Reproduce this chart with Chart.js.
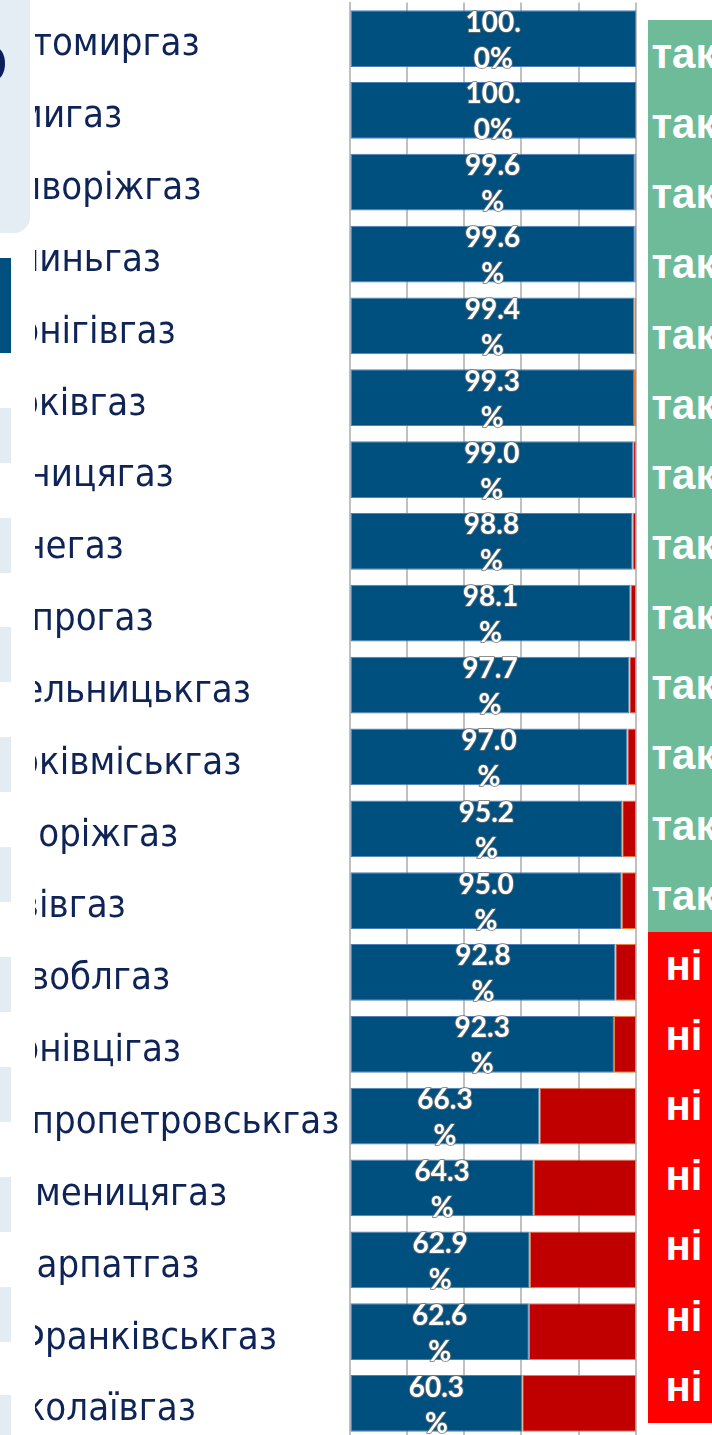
<!DOCTYPE html>
<html><head><meta charset="utf-8">
<script src="https://cdn.jsdelivr.net/npm/chart.js@4.4.1/dist/chart.umd.min.js"></script>
<style>
html,body{margin:0;padding:0;width:712px;height:1435px;overflow:hidden;background:#fff;position:relative;}
#wrap{position:absolute;top:0;}
.deco{position:absolute;}
#status{position:absolute;left:648px;top:20px;width:72px;}
.cell{height:70.15px;box-sizing:border-box;padding-top:10px;line-height:70px;text-align:center;color:#fff;font:bold 42px "Liberation Sans",Arial,sans-serif;overflow:hidden;}
</style></head><body>
<div id="wrap"><canvas id="c"></canvas></div>
<div class="deco" style="left:0;top:0;width:35px;height:1435px;background:#fff;"></div>
<div class="deco" style="left:0;top:0;width:30px;height:233px;background:#e4edf4;border-bottom-right-radius:16px;"></div>
<div class="deco" style="left:-15px;top:47px;width:20px;height:33px;background:#0b1f5c;border-radius:50%;"></div>
<div class="deco" style="left:0;top:258px;width:11px;height:95px;background:#00507f;"></div>
<div id="squares"></div>
<div id="status"></div>
<script>
const categories = ['Житомиргаз','Сумигаз','Криворіжгаз','Волиньгаз','Чернігівгаз','Харківгаз','Вінницягаз','Рівнегаз','Дніпрогаз','Хмельницькгаз','Харківміськгаз','Запоріжгаз','Львівгаз','Київоблгаз','Чернівцігаз','Дніпропетровськгаз','Тисменицягаз','Закарпатгаз','Ів-Франківськгаз','Миколаївгаз'];
const shareValues = [100.0,100.0,99.6,99.6,99.4,99.3,99.0,98.8,98.1,97.7,97.0,95.2,95.0,92.8,92.3,66.3,64.3,62.9,62.6,60.3];
const statusLabels = ['так','так','так','так','так','так','так','так','так','так','так','так','так','ні','ні','ні','ні','ні','ні','ні'];
const xTicks = [0,20,40,60,80,100];

const LABEL_X = -27, PLOT_LEFT = 349.5, PLOT_RIGHT = 636, PLOT_TOP = 2.6, PLOT_BOTTOM = 1439.4;
const CW = 640 - LABEL_X, CH = 1445;

// decorations
const sq = document.getElementById('squares');
[408,518,627,737,847,957,1067,1177,1287,1395].forEach(t=>{
  const d=document.createElement('div');d.className='deco';
  d.style.cssText='left:0;top:'+t+'px;width:11px;height:55px;background:#e3ebf3;';
  sq.appendChild(d);
});
// status column
const st = document.getElementById('status');
statusLabels.forEach(s=>{
  const d=document.createElement('div');d.className='cell';
  d.style.background = s==='так' ? '#6dbb98' : '#ff0000';
  d.textContent=s; st.appendChild(d);
});

const wrap = document.getElementById('wrap');
wrap.style.left = LABEL_X+'px';
const cv = document.getElementById('c');
cv.width = CW; cv.height = CH; cv.style.width=CW+'px'; cv.style.height=CH+'px';

const labelPlugin = {
  id:'barLabels',
  afterDatasetsDraw(chart){
    const ctx = chart.ctx;
    const meta = chart.getDatasetMeta(0);
    ctx.save();
    ctx.font = 'bold 28px Lato, "Open Sans", sans-serif';
    ctx.textAlign='center'; ctx.textBaseline='middle';
    ctx.lineJoin='round';
    meta.data.forEach((bar,i)=>{
      const p = bar.getProps(['x','y','base'],true);
      const cx = (p.x + p.base)/2;
      const txt = shareValues[i].toFixed(1)+'%';
      const lines = [txt.slice(0,4), txt.slice(4)];
      const ys = [p.y-16, p.y+20];
      lines.forEach((l,k)=>{
        ctx.strokeStyle='rgba(110,110,110,0.75)'; ctx.lineWidth=2;
        ctx.strokeText(l,cx,ys[k]);
        ctx.fillStyle='#ffffff';
        ctx.fillText(l,cx,ys[k]);
      });
    });
    ctx.restore();
  }
};

new Chart(cv,{
  type:'bar',
  data:{
    labels:categories,
    datasets:[
      {data:shareValues, backgroundColor:'#00507f', borderColor:'#4f7fba', borderWidth:1, borderSkipped:false},
      {data:shareValues.map(v=>+(100-v).toFixed(1)), backgroundColor:'#c00000', borderColor:'#ed7d31', borderWidth:1, borderSkipped:false}
    ]
  },
  options:{
    indexAxis:'y', responsive:false, animation:false, devicePixelRatio:1, events:[],
    layout:{padding:{left:0,right:CW-(PLOT_RIGHT-LABEL_X),top:PLOT_TOP,bottom:CH-PLOT_BOTTOM}},
    datasets:{bar:{barPercentage:0.79,categoryPercentage:1.0}},
    plugins:{legend:{display:false},tooltip:{enabled:false}},
    scales:{
      x:{type:'linear',stacked:true,min:xTicks[0],max:xTicks[xTicks.length-1],
        afterBuildTicks(ax){ax.ticks = xTicks.map(v=>({value:v}));},
        ticks:{display:false},
        grid:{color:'#c0c0c0',lineWidth:2,drawTicks:false},
        border:{display:false},
        afterFit(ax){ax.height=0;ax.paddingLeft=0;ax.paddingRight=0;}
      },
      y:{stacked:true,
        grid:{display:false},
        border:{display:true,color:'#c0c0c0',width:2},
        ticks:{crossAlign:'far',padding:0,labelOffset:7,autoSkip:false,color:'#0f2456',font:{family:'"DejaVu Sans Condensed","DejaVu Sans",sans-serif',size:38}},
        afterFit(ax){ax.width = PLOT_LEFT - LABEL_X; ax.paddingTop=0; ax.paddingBottom=0;}
      }
    }
  },
  plugins:[labelPlugin]
});
</script>
</body></html>
